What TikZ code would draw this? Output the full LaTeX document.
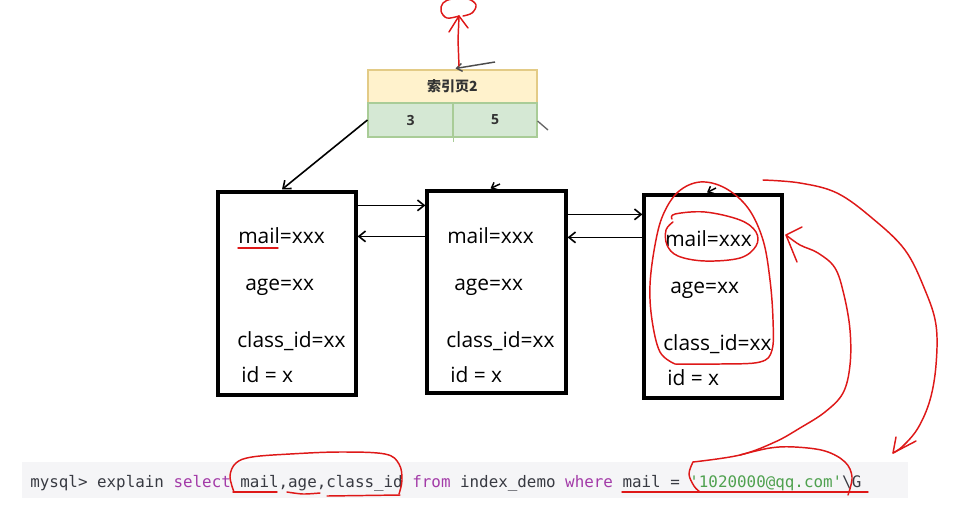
\documentclass[tikz,border=0pt]{standalone}
\usepackage{fontspec}
\setmainfont{Open Sans}
\setmonofont{DejaVu Sans Mono}
\newfontfamily\cjk{Noto Sans CJK SC}
\usetikzlibrary{arrows.meta,fit,calc}
\definecolor{ylwfill}{HTML}{FFF2CC}
\definecolor{ylwline}{HTML}{E3CB86}
\definecolor{grnfill}{HTML}{D5E8D4}
\definecolor{grnline}{HTML}{A9CC97}
\definecolor{inktext}{HTML}{333333}
\definecolor{pen}{RGB}{222,24,24}
\definecolor{kwpurple}{HTML}{A33BA8}
\definecolor{strgreen}{HTML}{4FA14F}
\definecolor{cmdtext}{HTML}{383A42}
\definecolor{barbg}{HTML}{F5F5F7}
\tikzset{
  pagebox/.style={draw=black, line width=2.4pt, inner sep=0pt},
  celltext/.style={font=\fontsize{15.7pt}{18pt}\selectfont, anchor=base west, inner sep=0pt},
  blk/.style={draw=black, line width=1.2pt, -{Straight Barb[length=5pt,width=8pt]}},
  smallblk/.style={draw=black, line width=1.1pt, -{Straight Barb[length=3.5pt,width=6pt]}},
  graylink/.style={draw=black!70, line width=1.1pt, -{Straight Barb[length=4pt,width=6pt]}},
  redpen/.style={draw=pen, line width=1.1pt, line cap=round, line join=round},
  headcell/.style={fill=ylwfill, draw=ylwline, line width=0.8pt, inner sep=0pt},
  numcell/.style={fill=grnfill, draw=grnline, line width=0.8pt, inner sep=0pt},
}
\begin{document}
\begin{tikzpicture}[x=0.75pt,y=-0.75pt]
\useasboundingbox (0,0) rectangle (960,526);
\fill[white] (0,0) rectangle (960,526);

% index page
\node[headcell, fit={(368,70) (537,103)}] (ihead) {};
\node[numcell, fit={(368,103) (453,137)}] (gL) {};
\node[numcell, fit={(453,103) (537,137)}] (gR) {};
\draw[grnline, line width=0.8pt] (gL.south east) -- ++(0,4);
\node[font=\cjk\bfseries\fontsize{10.5pt}{12pt}\selectfont, text=inktext] (ititle) at (ihead.center) {索引页2};
\node[font=\bfseries\fontsize{10.5pt}{12pt}\selectfont, text=inktext] (n3) at (gL.center) {3};
\node[font=\bfseries\fontsize{10.5pt}{12pt}\selectfont, text=inktext] (n5) at (gR.center) {5};
\coordinate (topsrc) at (495,62);
\draw[graylink] (topsrc) -- ($(ihead.north)+(3,-1)$);
\coordinate (rgtend) at (548,130);
\draw[black!60, line width=1pt] ($(gR.east)+(0,1)$) -- (rgtend);

% data pages
\node[pagebox, fit={(218,192) (356,395)}] (b1) {};
\node[pagebox, fit={(427,191) (566,393)}] (b2) {};
\node[pagebox, fit={(644,195) (782,398)}] (b3) {};

\node[celltext] (m1) at (238,243) {mail=xxx};
\node[celltext] (a1) at (245,290) {age=xx};
\node[celltext] (c1) at (237,347) {class\_id=xx};
\node[celltext] (i1) at (241,382) {id = x};

\node[celltext] (m2) at (447,243) {mail=xxx};
\node[celltext] (a2) at (454,290) {age=xx};
\node[celltext] (c2) at (446,347) {class\_id=xx};
\node[celltext] (i2) at (450,382) {id = x};

\node[celltext] (m3) at (665,246) {mail=xxx};
\node[celltext] (a3) at (670,293) {age=xx};
\node[celltext] (c3) at (663,350) {class\_id=xx};
\node[celltext] (i3) at (667,385) {id = x};

% black connectors
\draw[blk] (gL.west) -- ($(b1.north)+(-5,-1)$);
\draw[blk] ($(b1.north east)+(0,15)$) -- ($(b2.north west)+(0,16)$);
\draw[blk] ($(b2.north west)+(0,47)$) -- ($(b1.north east)+(0,46)$);
\draw[blk] ($(b2.north east)+(0,25)$) -- ($(b3.north west)+(0,21)$);
\draw[blk] ($(b3.north west)+(0,44)$) -- ($(b2.north east)+(0,48)$);
\coordinate (b2in) at (500,184);
\coordinate (b3in) at (716,188);
\draw[smallblk] (b2in) -- ($(b2.north)+(-6,-1)$);
\draw[smallblk] (b3in) -- ($(b3.north)+(-6,-1)$);

% command line
\fill[barbg] (22,462) rectangle (908,498);
\node[anchor=base west, inner sep=0pt, font=\ttfamily\fontsize{11.9pt}{14pt}\selectfont, text=cmdtext] (cmd) at (30,487)
 {mysql> explain \textcolor{kwpurple}{select} mail,age,class\_id \textcolor{kwpurple}{from} index\_demo \textcolor{kwpurple}{where} mail = \textcolor{strgreen}{'1020000@qq.com'}\textbackslash G};

% red annotations
\draw[redpen] (238,248) -- (278,248);
% top arrow and scribble
\draw[redpen] (459,66) -- (458,40) -- (459,16);
\draw[redpen] (449,32) -- (459,16) -- (468,28);
\draw[redpen] plot[smooth, tension=0.6] coordinates {(459,16) (447,18) (441,11) (443,3) (452,-1) (468,-1) (476,5) (472,13) (463,16)};
% big loop around box 3
\draw[redpen] plot[smooth, tension=0.6] coordinates {(675,364) (660,352) (652,320) (650,285) (655,245) (663,215) (678,192) (700,182) (725,188) (748,208) (763,240) (770,280) (773,320) (772,350) (760,362) (720,364) (675,364)};
% small loop around mail
\draw[redpen] plot[smooth, tension=0.6] coordinates {(673,222) (666,230) (667,245) (678,256) (705,261) (740,258) (756,246) (756,232) (740,220) (705,212) (675,214) (672,219)};
% arrow into box 3 from string
\draw[redpen] (802,227) -- (786,235) -- (797,262);
\draw[redpen] plot[smooth, tension=0.6] coordinates {(786,235) (800,245) (818,253) (835,268) (844,295) (850,330) (850,365) (843,393) (825,412) (800,428) (775,442) (740,455) (693,462)};
\draw[redpen] plot[smooth, tension=0.6] coordinates {(693,462) (689,474) (694,486) (700,492)};
\draw[redpen] plot[smooth, tension=0.6] coordinates {(740,455) (770,448) (795,447) (825,451) (845,462) (852,477) (848,495)};
\draw[redpen] (622,492) -- (868,492);
% outer curve to the string
\draw[redpen] plot[smooth, tension=0.6] coordinates {(763,180) (800,183) (837,193) (872,218) (905,250) (925,290) (936,325) (936,365) (930,400) (918,428) (903,446) (893,453)};
\draw[redpen] (896,437) -- (893,453) -- (916,441);
% loop around the selected columns
\draw[redpen] plot[smooth, tension=0.6] coordinates {(234,492) (230,476) (236,463) (252,457) (290,454) (340,452) (385,454) (399,464) (402,480) (399,494)};
\draw[redpen] (233,492) -- (277,492);
\draw[redpen] plot[smooth] coordinates {(287,492) (303,494) (320,493)};
\draw[redpen] (327,496) -- (400,495);
\end{tikzpicture}
\end{document}
